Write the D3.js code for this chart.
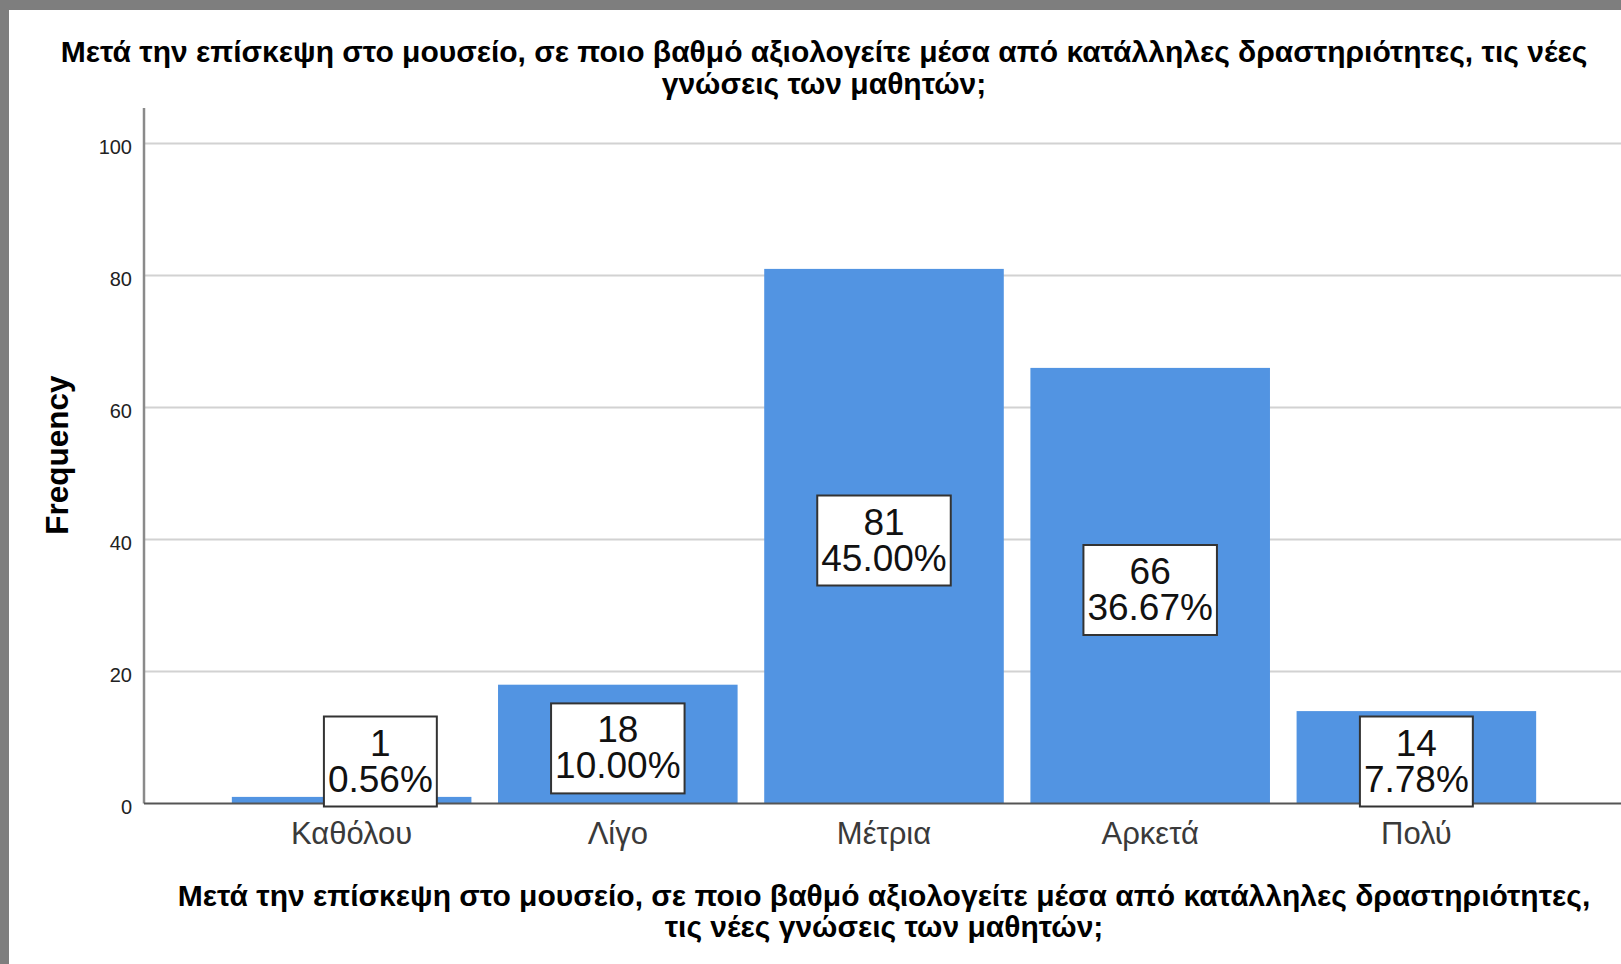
<!DOCTYPE html>
<html>
<head>
<meta charset="utf-8">
<script src="https://cdn.jsdelivr.net/npm/d3@7"></script>
<style>
  body { margin: 0; background: #fff; }
  text { font-family: "Liberation Sans", Arial, sans-serif; }
</style>
</head>
<body>
<div id="chart"></div>
<script>
// data
const categories = ['Καθόλου', 'Λίγο', 'Μέτρια', 'Αρκετά', 'Πολύ'];
const counts = [1, 18, 81, 66, 14];
const percents = ['0.56%', '10.00%', '45.00%', '36.67%', '7.78%'];
const yTicks = [0, 20, 40, 60, 80, 100];
const titleLines = [
  'Μετά την επίσκεψη στο μουσείο, σε ποιο βαθμό αξιολογείτε μέσα από κατάλληλες δραστηριότητες, τις νέες',
  'γνώσεις των μαθητών;'
];
const xTitleLines = [
  'Μετά την επίσκεψη στο μουσείο, σε ποιο βαθμό αξιολογείτε μέσα από κατάλληλες δραστηριότητες,',
  'τις νέες γνώσεις των μαθητών;'
];

const width = 1621, height = 964;
const plot = { left: 144, right: 1624, top: 108, bottom: 803.5 };

const svg = d3.select('#chart').append('svg')
  .attr('width', width)
  .attr('height', height);

svg.append('rect').attr('width', width).attr('height', height).attr('fill', '#fff');

// grey window edge on top and left
svg.append('rect').attr('x', 0).attr('y', 0).attr('width', width).attr('height', 10).attr('fill', '#7e7e7e');
svg.append('rect').attr('x', 0).attr('y', 0).attr('width', 9).attr('height', height).attr('fill', '#7e7e7e');

const x = d3.scaleBand()
  .domain(categories)
  .range([plot.left, plot.right])
  .paddingInner(0.1)
  .paddingOuter(0.33);

const y = d3.scaleLinear()
  .domain([0, 100])
  .range([plot.bottom, plot.bottom - 660]);

// gridlines
svg.append('g')
  .selectAll('line')
  .data(yTicks.filter(d => d > 0))
  .join('line')
  .attr('x1', plot.left)
  .attr('x2', width)
  .attr('y1', d => y(d))
  .attr('y2', d => y(d))
  .attr('stroke', '#d2d2d2')
  .attr('stroke-width', 2);

// y axis
const yAxis = svg.append('g')
  .attr('transform', `translate(${plot.left},0)`)
  .call(d3.axisLeft(y).tickValues(yTicks).tickSize(0).tickPadding(12));
yAxis.select('.domain').remove();
yAxis.selectAll('text')
  .attr('font-size', 20)
  .attr('fill', '#222')
  .attr('dy', '0.5em')
  .style('font-family', '"Liberation Sans", Arial, sans-serif');

svg.append('line')
  .attr('x1', plot.left).attr('x2', plot.left)
  .attr('y1', plot.top).attr('y2', plot.bottom)
  .attr('stroke', '#8a8a8a')
  .attr('stroke-width', 2.5);

// bars
svg.append('g')
  .selectAll('rect')
  .data(counts)
  .join('rect')
  .attr('x', (d, i) => x(categories[i]))
  .attr('y', d => y(d))
  .attr('width', x.bandwidth())
  .attr('height', d => y(0) - y(d))
  .attr('fill', '#5294e2');

// baseline
svg.append('line')
  .attr('x1', plot.left).attr('x2', width)
  .attr('y1', y(0)).attr('y2', y(0))
  .attr('stroke', '#555')
  .attr('stroke-width', 2);

// x category labels
const xAxis = svg.append('g')
  .attr('transform', `translate(0,${y(0)})`)
  .call(d3.axisBottom(x).tickSize(0).tickPadding(18));
xAxis.select('.domain').remove();
xAxis.selectAll('text')
  .attr('font-size', 31)
  .attr('fill', '#3a3a3a')
  .attr('dy', '0.71em')
  .style('font-family', '"Liberation Sans", Arial, sans-serif');

// value boxes
const boxH = 90;
const labels = svg.append('g')
  .selectAll('g')
  .data(counts)
  .join('g')
  .attr('transform', (d, i) => {
    const dx = i === 0 ? x.bandwidth() * 0.12 : 0; // first bar is too thin, SPSS nudges it
    const cx = x(categories[i]) + x.bandwidth() / 2 + dx;
    const cy = Math.min((y(d) + y(0)) / 2 + 4.3, y(0) - 42);
    return `translate(${cx},${cy})`;
  });

const boxes = labels.append('rect')
  .attr('fill', '#fff')
  .attr('stroke', '#333')
  .attr('stroke-width', 2);

labels.append('text')
  .attr('text-anchor', 'middle')
  .attr('font-size', 37)
  .attr('fill', '#111')
  .attr('y', -6)
  .text(d => d);

labels.append('text')
  .attr('text-anchor', 'middle')
  .attr('font-size', 37)
  .attr('fill', '#111')
  .attr('y', 30)
  .text((d, i) => percents[i]);

boxes.each(function() {
  const g = d3.select(this.parentNode);
  let w = 0;
  g.selectAll('text').each(function() { w = Math.max(w, this.getComputedTextLength()); });
  d3.select(this)
    .attr('x', -(w + 8) / 2)
    .attr('y', -boxH / 2)
    .attr('width', w + 8)
    .attr('height', boxH);
});

// titles
svg.append('g')
  .selectAll('text')
  .data(titleLines)
  .join('text')
  .attr('x', 824)
  .attr('y', (d, i) => 62 + i * 32)
  .attr('text-anchor', 'middle')
  .attr('font-size', 30)
  .attr('font-weight', 'bold')
  .attr('fill', '#000')
  .text(d => d);

svg.append('g')
  .selectAll('text')
  .data(xTitleLines)
  .join('text')
  .attr('x', 884)
  .attr('y', (d, i) => 906 + i * 31)
  .attr('text-anchor', 'middle')
  .attr('font-size', 30)
  .attr('font-weight', 'bold')
  .attr('fill', '#000')
  .text(d => d);

svg.append('text')
  .attr('transform', 'translate(68,455) rotate(-90)')
  .attr('text-anchor', 'middle')
  .attr('font-size', 31.5)
  .attr('font-weight', 'bold')
  .attr('fill', '#000')
  .text('Frequency');
</script>
</body>
</html>
